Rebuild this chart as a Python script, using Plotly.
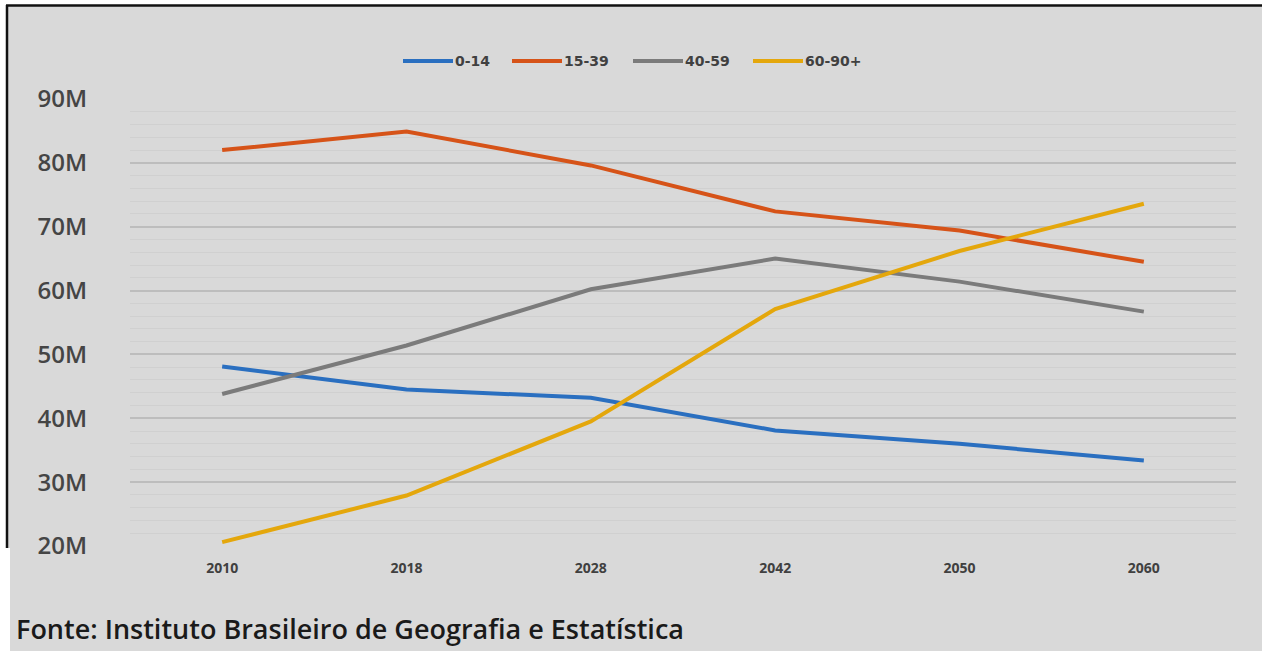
import plotly.graph_objects as go

years = ["2010", "2018", "2028", "2042", "2050", "2060"]
age_0_14 = [48.1, 44.5, 43.2, 38.1, 36.0, 33.4]
age_15_39 = [82.0, 84.9, 79.6, 72.4, 69.4, 64.5]
age_40_59 = [43.8, 51.4, 60.2, 65.0, 61.4, 56.7]
age_60_90 = [20.6, 27.9, 39.5, 57.1, 66.2, 73.6]

series_names = ["0-14", "15-39", "40-59", "60-90+"]
series_values = [age_0_14, age_15_39, age_40_59, age_60_90]
series_colors = ["#2a6fc0", "#d65318", "#7b7b7b", "#e4a70c"]

y_ticks = [20, 30, 40, 50, 60, 70, 80, 90]
y_tick_text = [f"{v}M" for v in y_ticks]
source_text = "Fonte: Instituto Brasileiro de Geografia e Estatística"

W, H = 1262, 651
L, R, T, B = 130, 26, 99, 105
pw, ph = W - L - R, H - T - B

def px(x):
    return (x - L) / pw

def py(y):
    return (H - B - y) / ph

fig = go.Figure()
for name, vals, col in zip(series_names, series_values, series_colors):
    fig.add_trace(go.Scatter(
        x=years, y=vals, name=name, mode="lines",
        line=dict(color=col, width=4),
    ))

bg = "#d9d9d9"
shapes = [
    dict(type="rect", xref="paper", yref="paper", x0=px(7), x1=px(W + 2), y0=py(5), y1=py(548),
         fillcolor=bg, line=dict(width=0), layer="below"),
    dict(type="rect", xref="paper", yref="paper", x0=px(10), x1=px(W + 2), y0=py(548), y1=py(H + 2),
         fillcolor=bg, line=dict(width=0), layer="below"),
    dict(type="line", xref="paper", yref="paper", x0=px(6), x1=px(W + 2), y0=py(5.5), y1=py(5.5),
         line=dict(color="#111111", width=2.5), layer="below"),
    dict(type="line", xref="paper", yref="paper", x0=px(7), x1=px(7), y0=py(5), y1=py(548),
         line=dict(color="#111111", width=2.5), layer="below"),
]

# manual legend (line swatch + label), as in the original
legend_x = [403, 512, 633, 753]
annotations = []
for name, col, lx in zip(series_names, series_colors, legend_x):
    shapes.append(dict(type="line", xref="paper", yref="paper",
                       x0=px(lx), x1=px(lx + 50), y0=py(61), y1=py(61),
                       line=dict(color=col, width=4)))
    annotations.append(dict(text=name, xref="paper", yref="paper", x=px(lx + 50), y=py(61),
                            xanchor="left", yanchor="middle", showarrow=False,
                            font=dict(size=14, color="#404040", family="DejaVu Sans", weight="bold")))

annotations.append(dict(text=source_text, xref="paper", yref="paper", x=px(14), y=py(628),
                        xanchor="left", yanchor="middle", showarrow=False,
                        font=dict(size=27, color="#1a1a1a", family="Open Sans", weight=600)))

fig.update_layout(
    width=W, height=H,
    margin=dict(l=L, r=R, t=T, b=B),
    paper_bgcolor="white",
    plot_bgcolor=bg,
    font=dict(family="Open Sans, sans-serif", color="#404040"),
    shapes=shapes,
    annotations=annotations,
    showlegend=False,
)

fig.update_xaxes(
    type="category", range=[-0.5, 5.5], showgrid=False, zeroline=False,
    showline=False, ticks="",
    tickfont=dict(size=14, color="#404040", family="Open Sans", weight="bold"),
    ticklabelstandoff=12,
)
fig.update_yaxes(
    range=[20, 90], tickvals=y_ticks, ticktext=y_tick_text,
    showgrid=True, gridcolor="#bdbdbd", gridwidth=2,
    minor=dict(dtick=2, showgrid=True, gridcolor="#d0d0d0", gridwidth=1),
    zeroline=False, showline=False, ticks="",
    tickfont=dict(size=24, color="#454545", family="Open Sans", weight=600),
    ticklabelstandoff=42,
)

fig.write_html("out.html", config={"displayModeBar": False},
               post_script="document.body.style.margin='0';")
